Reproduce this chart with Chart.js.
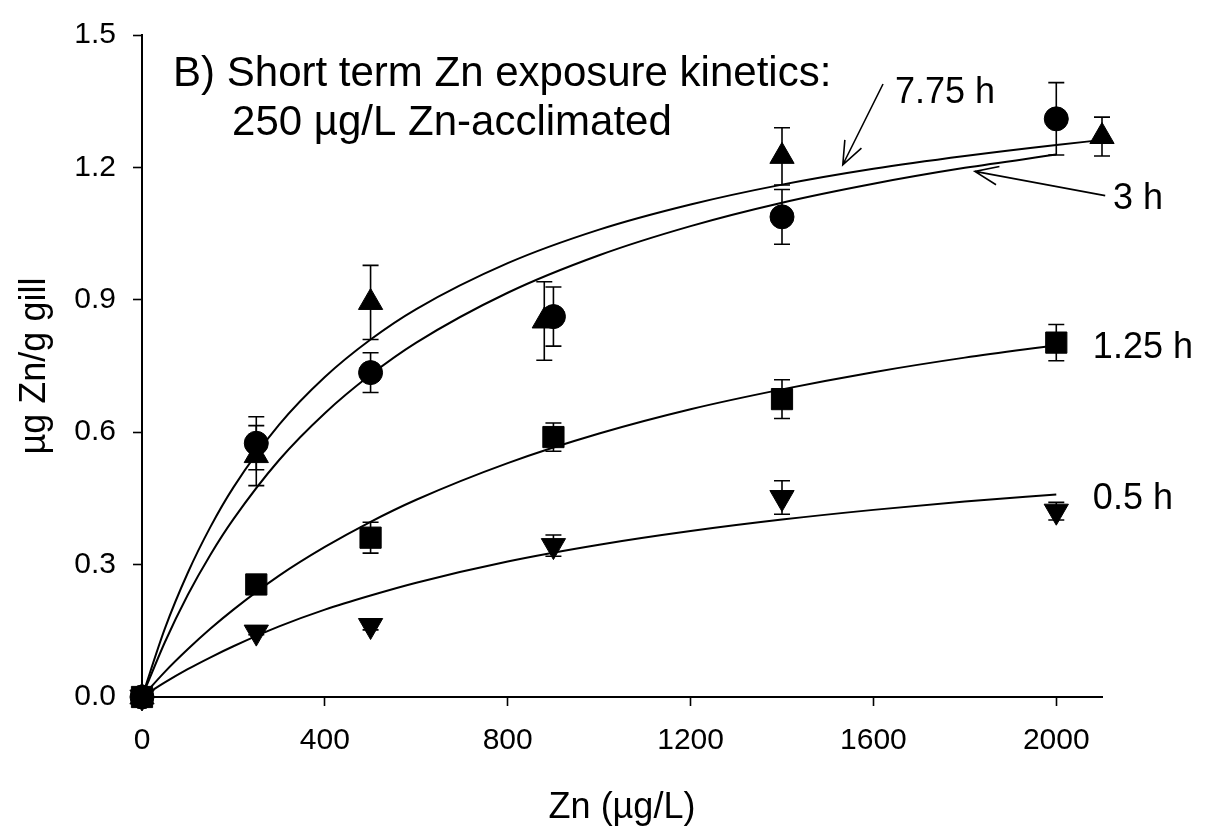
<!DOCTYPE html>
<html>
<head>
<meta charset="utf-8">
<script src="https://cdn.jsdelivr.net/npm/chart.js@4.4.1/dist/chart.umd.min.js"></script>
<style>
  html, body { margin: 0; padding: 0; background: #fff; }
</style>
</head>
<body>
<canvas id="zincChart" width="1210" height="832"></canvas>
<script>
// measured gill Zn (ug Zn/g gill) vs water Zn (ug/L), mean +/- SEM
const znConc = [0, 250, 500, 900, 1400, 2000];
const znConc775 = [0, 250, 500, 880, 1400, 2100];
const uptake775 = [0, 0.547, 0.894, 0.852, 1.225, 1.270];
const err775 = [0, 0.068, 0.084, 0.089, 0.065, 0.044];
const uptake3 = [0, 0.575, 0.735, 0.862, 1.088, 1.310];
const err3 = [0, 0.060, 0.045, 0.067, 0.062, 0.082];
const uptake125 = [0, 0.255, 0.361, 0.589, 0.675, 0.803];
const err125 = [0, 0.008, 0.035, 0.032, 0.044, 0.041];
const uptake05 = [0, 0.147, 0.162, 0.343, 0.452, 0.421];
const err05 = [0, 0.006, 0.010, 0.024, 0.038, 0.020];

// fitted curves
const fitConc = [0, 50, 100, 150, 200, 300, 400, 500, 600, 800, 1000, 1200, 1400, 1600, 1800, 2000];
const fitConc775 = [0, 50, 100, 150, 200, 300, 400, 500, 600, 800, 1000, 1200, 1400, 1600, 1800, 2000, 2100];
const fit775 = [0, 0.155, 0.281, 0.386, 0.475, 0.617, 0.725, 0.810, 0.879, 0.983, 1.059, 1.116, 1.161, 1.197, 1.226, 1.251, 1.262];
const fit3 = [0, 0.124, 0.231, 0.323, 0.403, 0.537, 0.643, 0.730, 0.803, 0.916, 1.001, 1.067, 1.120, 1.163, 1.199, 1.229];
const fit125 = [0, 0.057, 0.108, 0.155, 0.198, 0.275, 0.340, 0.397, 0.447, 0.530, 0.597, 0.652, 0.697, 0.736, 0.769, 0.797];
const fit05 = [0, 0.033, 0.063, 0.090, 0.115, 0.160, 0.198, 0.230, 0.259, 0.307, 0.345, 0.376, 0.402, 0.424, 0.443, 0.459];

const xTicks = [0, 400, 800, 1200, 1600, 2000];
const yTicks = [0, 0.3, 0.6, 0.9, 1.2, 1.5];

const titleLines = ['B) Short term Zn exposure kinetics:', '250 \u00b5g/L Zn-acclimated'];
const curveLabels = ['7.75 h', '3 h', '1.25 h', '0.5 h'];

const FONT = "'Liberation Sans', Arial, sans-serif";

// where the texts and arrows sit, in data units
const notes = {
    title: [{x: 68, y: 1.384, size: 42}, {x: 197, y: 1.273, size: 42}],
    curves: [{x: 1647, y: 1.346}, {x: 2124, y: 1.106}, {x: 2080, y: 0.768}, {x: 2080, y: 0.427}],
    arrows: [
        {from: [1621, 1.389], to: [1533, 1.206]},
        {from: [2107, 1.136], to: [1822, 1.191]}
    ]
};

let toXY = (xs, ys) => xs.map((v, i) => ({x: v, y: ys[i]}));

let pointSet = (xs, ys, errs, style, radius, rotation) => ({
    data: toXY(xs, ys),
    errors: errs,
    showLine: false,
    pointStyle: style,
    pointRadius: radius,
    rotation: rotation || 0,
    backgroundColor: '#000',
    borderColor: '#000',
    borderWidth: 1,
    clip: false
});

let curveSet = (xs, ys) => ({
    data: toXY(xs, ys),
    showLine: true,
    pointRadius: 0,
    borderColor: '#000',
    borderWidth: 2,
    cubicInterpolationMode: 'monotone',
    fill: false,
    clip: false
});

const errorBars = {
    id: 'errorBars',
    beforeDatasetsDraw(chart) {
        const {ctx, scales: {x, y}} = chart;
        ctx.save();
        ctx.strokeStyle = '#000';
        ctx.lineWidth = 1.6;
        chart.data.datasets.forEach(ds => {
            if (!ds.errors) return;
            ds.data.forEach((p, i) => {
                const e = ds.errors[i];
                if (!e) return;
                const px = x.getPixelForValue(p.x);
                const top = y.getPixelForValue(p.y + e);
                const bot = y.getPixelForValue(p.y - e);
                ctx.beginPath();
                ctx.moveTo(px, top); ctx.lineTo(px, bot);
                ctx.moveTo(px - 8, top); ctx.lineTo(px + 8, top);
                ctx.moveTo(px - 8, bot); ctx.lineTo(px + 8, bot);
                ctx.stroke();
            });
        });
        ctx.restore();
    }
};

const annotations = {
    id: 'annotations',
    afterDraw(chart) {
        const {ctx, scales: {x, y}} = chart;
        ctx.save();
        ctx.fillStyle = '#000';
        ctx.strokeStyle = '#000';
        ctx.textAlign = 'left';
        ctx.textBaseline = 'alphabetic';
        titleLines.forEach((t, i) => {
            const n = notes.title[i];
            ctx.font = n.size + 'px ' + FONT;
            ctx.fillText(t, x.getPixelForValue(n.x), y.getPixelForValue(n.y));
        });
        ctx.font = '36px ' + FONT;
        curveLabels.forEach((t, i) => {
            const n = notes.curves[i];
            ctx.fillText(t, x.getPixelForValue(n.x), y.getPixelForValue(n.y));
        });
        ctx.lineWidth = 1.6;
        notes.arrows.forEach(a => {
            const x0 = x.getPixelForValue(a.from[0]), y0 = y.getPixelForValue(a.from[1]);
            const x1 = x.getPixelForValue(a.to[0]), y1 = y.getPixelForValue(a.to[1]);
            const ang = Math.atan2(y0 - y1, x0 - x1);
            const head = 25, spread = 0.38;
            ctx.beginPath();
            ctx.moveTo(x0, y0); ctx.lineTo(x1, y1);
            ctx.moveTo(x1 + head * Math.cos(ang - spread), y1 + head * Math.sin(ang - spread));
            ctx.lineTo(x1, y1);
            ctx.lineTo(x1 + head * Math.cos(ang + spread), y1 + head * Math.sin(ang + spread));
            ctx.stroke();
        });
        ctx.restore();
    }
};

const axisStyle = {
    border: {display: true, color: '#000', width: 2},
    grid: {drawOnChartArea: false, drawTicks: true, tickLength: 9, tickColor: '#000', tickWidth: 1.6}
};

const ctx = document.getElementById('zincChart').getContext('2d');
const zincChart = new Chart(ctx, {
    type: 'scatter',
    data: {
        datasets: [
            pointSet(znConc775, uptake775, err775, 'triangle', 14),
            pointSet(znConc, uptake3, err3, 'circle', 12),
            pointSet(znConc, uptake125, err125, 'rect', 15),
            pointSet(znConc, uptake05, err05, 'triangle', 14, 180),
            curveSet(fitConc775, fit775),
            curveSet(fitConc, fit3),
            curveSet(fitConc, fit125),
            curveSet(fitConc, fit05)
        ]
    },
    options: {
        responsive: false,
        animation: false,
        layout: {padding: {top: 23, right: 108, left: 0, bottom: 0}},
        plugins: {legend: {display: false}, tooltip: {enabled: false}},
        scales: {
            x: {
                type: 'linear',
                min: 0,
                max: 2100,
                afterBuildTicks: s => { s.ticks = xTicks.map(v => ({value: v})); },
                afterFit: s => { s.height = 135; },
                ...axisStyle,
                ticks: {color: '#000', padding: 17, maxRotation: 0, font: {family: FONT, size: 30}, callback: v => String(v)},
                title: {display: true, text: 'Zn (\u00b5g/L)', color: '#000', padding: {top: 0, bottom: 2}, font: {family: FONT, size: 36}}
            },
            y: {
                type: 'linear',
                min: 0,
                max: 1.5,
                afterBuildTicks: s => { s.ticks = yTicks.map(v => ({value: v})); },
                afterFit: s => { s.width = 142; },
                ...axisStyle,
                ticks: {color: '#000', padding: 17, font: {family: FONT, size: 30}, callback: v => v.toFixed(1)},
                title: {display: true, text: '\u00b5g Zn/g gill', color: '#000', padding: {top: 13, bottom: 0}, font: {family: FONT, size: 36}}
            }
        }
    },
    plugins: [errorBars, annotations]
});
</script>
</body>
</html>
